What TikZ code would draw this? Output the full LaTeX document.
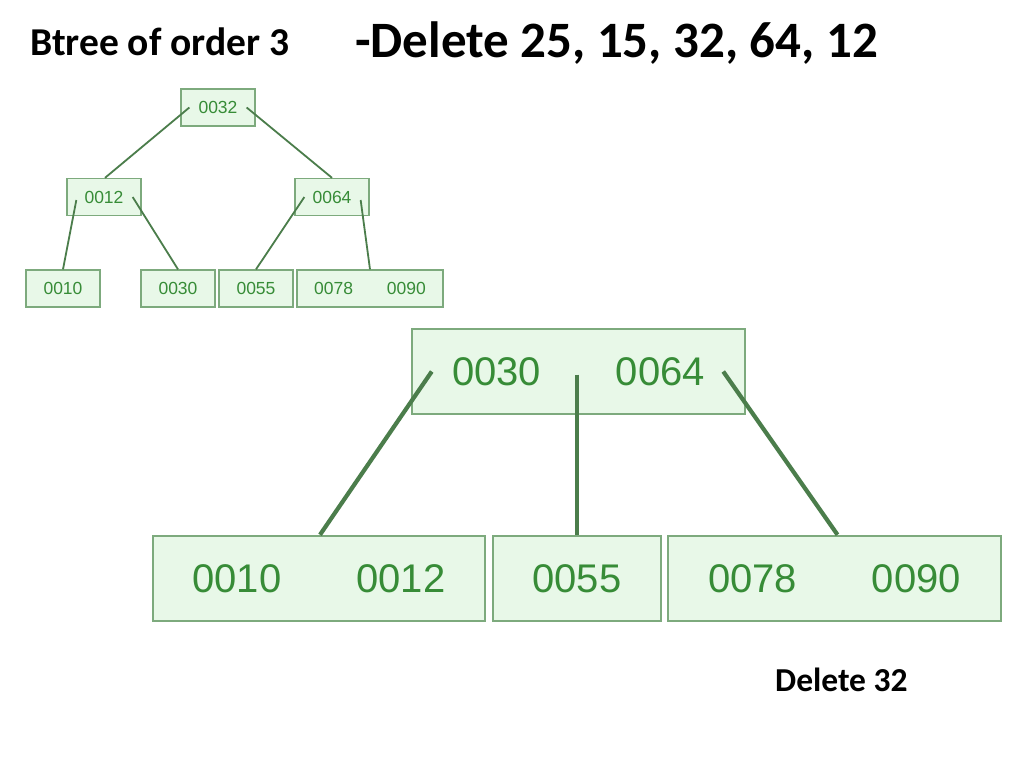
\documentclass[tikz,border=0pt]{standalone}
\usepackage{fontspec}
\setmainfont{Carlito}
\newfontfamily\boxfont{Liberation Sans}
\definecolor{boxfill}{RGB}{232,248,232}
\definecolor{boxdraw}{RGB}{125,170,125}
\definecolor{boxtext}{RGB}{55,140,55}
\definecolor{edgecol}{RGB}{75,125,75}
\begin{document}
\begin{tikzpicture}[x=1pt,y=-1pt,
  sbox/.style={draw=boxdraw, fill=boxfill, line width=1.3pt, minimum height=37pt, inner sep=0pt, text=boxtext, font=\boxfont\fontsize{17.5}{17.5}\selectfont},
  bbox/.style={draw=boxdraw, fill=boxfill, line width=2.5pt, minimum height=85pt, inner sep=0pt, text=boxtext, font=\boxfont\fontsize{40}{40}\selectfont},
  sedge/.style={draw=edgecol, line width=1.8pt},
  bedge/.style={draw=edgecol, line width=4.2pt},
  ttl/.style={anchor=base west, inner sep=0pt, text=black}]
\useasboundingbox (0,0) rectangle (1024,767);
\fill[white] (0,0) rectangle (1024,767);
% titles
\node[ttl, font=\bfseries\fontsize{39.5}{42}\selectfont] (t1) at (30,56) {Btree of order 3};
\node[ttl, font=\bfseries\fontsize{51}{55}\selectfont] (t2) at (355,58) {-Delete 25, 15, 32, 64, 12};
\node[ttl, font=\bfseries\fontsize{33.5}{36}\selectfont] (t3) at (775,691) {Delete 32};
% small tree
\node[sbox, minimum width=74pt] (r) at (218,107.5) {0032};
\node[sbox, minimum width=74pt] (b) at (104,197) {0012};
\node[sbox, minimum width=74pt] (c) at (332,197) {0064};
\node[sbox, minimum width=74pt] (l1) at (63,288.5) {0010};
\node[sbox, minimum width=74pt] (l2) at (178,288.5) {0030};
\node[sbox, minimum width=74pt] (l3) at (256,288.5) {0055};
\node[sbox, minimum width=146pt] (l4) at (370,288.5) {0078\hspace{34pt}0090};
\draw[sedge] ([xshift=9pt]r.west) -- ([xshift=1pt]b.north);
\draw[sedge] ([xshift=-9pt]r.east) -- (c.north);
\draw[sedge] ([xshift=10pt,yshift=-3pt]b.west) -- (l1.north);
\draw[sedge] ([xshift=-9pt]b.east) -- (l2.north);
\draw[sedge] ([xshift=10pt]c.west) -- (l3.north);
\draw[sedge] ([xshift=-9pt,yshift=-3pt]c.east) -- (l4.north);
% big tree
\node[bbox, minimum width=333pt] (R) at (578.5,371.5) {0030\hspace{75pt}0064};
\node[bbox, minimum width=332pt] (L1) at (319,578.5) {0010\hspace{75pt}0012};
\node[bbox, minimum width=168pt] (L2) at (577,578.5) {0055};
\node[bbox, minimum width=333pt] (L3) at (834.5,578.5) {0078\hspace{75pt}0090};
\draw[bedge] ([xshift=21pt]R.west) -- ([xshift=1pt]L1.north);
\draw[bedge] ([yshift=-3pt]R.center -| L2.north) -- (L2.north);
\draw[bedge] ([xshift=-23pt]R.east) -- ([xshift=3pt]L3.north);
\end{tikzpicture}
\end{document}
